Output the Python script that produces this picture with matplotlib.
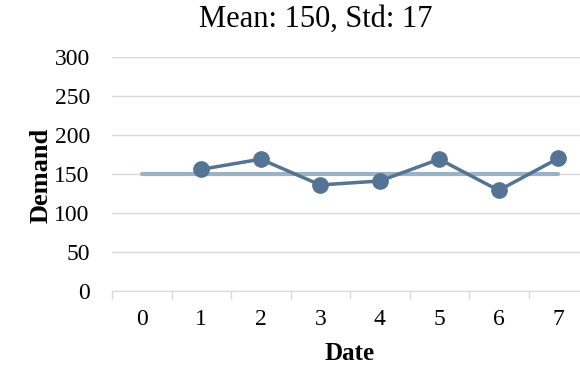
import matplotlib
matplotlib.use("Agg")
import matplotlib.pyplot as plt

dates = [1, 2, 3, 4, 5, 6, 7]
demand = [156, 169, 136, 141, 169, 129, 170]
mean_x = [0, 7]
mean_val = [150, 150]
categories = [0, 1, 2, 3, 4, 5, 6, 7]
title = "Mean: 150, Std: 17"

plt.rcParams['font.family'] = ['Liberation Serif', 'DejaVu Serif']

fig = plt.figure(figsize=(5.8, 3.68), dpi=100)
W, H = 580, 368
left, right, top, bottom = 112, 588, 57, 291
ax = fig.add_axes([left / W, 1 - bottom / H, (right - left) / W, (bottom - top) / H])

ax.plot(mean_x, mean_val, color='#9ab2c8', lw=3, solid_capstyle='round', zorder=3)
ax.plot(dates, demand, color='#557392', lw=2.5, marker='o', ms=11, zorder=4)

ax.set_xlim(-0.5, 7.5)
ax.set_ylim(0, 300)
ax.set_yticks(range(0, 301, 50))
ax.set_xticks(categories)
ax.set_xticks([c - 0.5 for c in categories] + [7.5], minor=True)
ax.tick_params(axis='x', which='major', length=0, labelsize=17, pad=13)
ax.tick_params(axis='x', which='minor', length=6, color='#d9d9d9', width=1)
ax.tick_params(axis='y', length=0, labelsize=17, pad=16)
ax.grid(axis='y', color='#d9d9d9', lw=1)
ax.set_axisbelow(True)
for s in ['top', 'right', 'left']:
    ax.spines[s].set_visible(False)
ax.spines['bottom'].set_color('#d9d9d9')

ax.set_xlabel('Date', fontsize=18, fontweight='bold')
ax.set_ylabel('Demand', fontsize=19, fontweight='bold')
ax.xaxis.set_label_coords((350 - left) / (right - left), (bottom - 353) / (bottom - top))
ax.xaxis.label.set_va('center')
ax.yaxis.set_label_coords((41 - left) / (right - left), (bottom - 175) / (bottom - top))
ax.yaxis.label.set_va('center')
ax.yaxis.label.set_rotation_mode('default')
fig.text(316 / W, 1 - 19 / H, title, ha='center', va='center', fontsize=22)

fig.savefig('out.png', dpi=100)
